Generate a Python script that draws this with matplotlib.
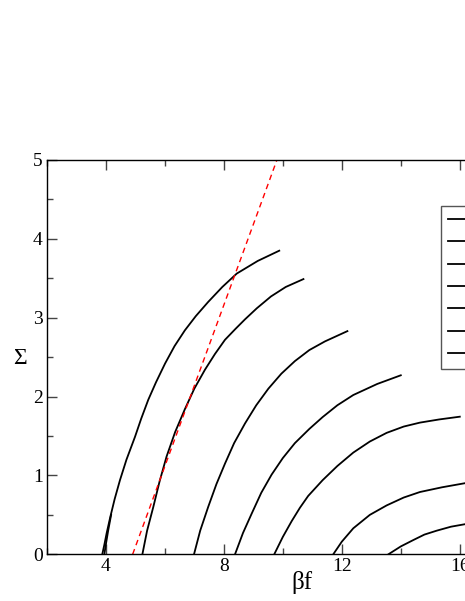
import matplotlib
matplotlib.use("Agg")
import matplotlib.pyplot as plt
from matplotlib.ticker import MultipleLocator

plt.rcParams['font.family'] = ['Liberation Serif', 'DejaVu Serif']

# curves (beta*f, Sigma)
c1_x = [3.88, 3.95, 4.03, 4.15, 4.30, 4.48, 4.70, 4.99, 5.20, 5.44, 5.70,
        6.01, 6.33, 6.68, 7.05, 7.47, 7.95, 8.44, 9.15, 9.88]
c1_y = [0.0, 0.12, 0.27, 0.47, 0.70, 0.94, 1.20, 1.49, 1.72, 1.96, 2.18,
        2.42, 2.64, 2.84, 3.02, 3.20, 3.39, 3.56, 3.72, 3.85]
c1b_x = [3.95, 4.00, 4.08, 4.18]
c1b_y = [0.0, 0.12, 0.30, 0.50]
c2_x = [5.24, 5.40, 5.61, 5.82, 6.06, 6.35, 6.68, 7.00, 7.36, 7.70, 8.04,
        8.40, 8.72, 9.12, 9.60, 10.10, 10.70]
c2_y = [0.0, 0.30, 0.60, 0.92, 1.24, 1.55, 1.84, 2.10, 2.34, 2.54, 2.72,
        2.86, 2.98, 3.12, 3.27, 3.39, 3.49]
c3_x = [6.99, 7.20, 7.47, 7.75, 8.04, 8.35, 8.72, 9.10, 9.51, 9.95, 10.41,
        10.90, 11.43, 12.19]
c3_y = [0.0, 0.30, 0.60, 0.89, 1.15, 1.41, 1.66, 1.89, 2.10, 2.29, 2.45,
        2.59, 2.70, 2.83]
c4_x = [8.38, 8.65, 8.95, 9.27, 9.62, 10.00, 10.41, 10.90, 11.35, 11.85,
        12.39, 13.20, 14.00]
c4_y = [0.0, 0.27, 0.52, 0.78, 1.01, 1.22, 1.41, 1.59, 1.74, 1.89,
        2.02, 2.16, 2.27]
c5_x = [9.71, 10.00, 10.30, 10.58, 10.86, 11.35, 11.85, 12.39, 12.95, 13.52,
        14.10, 14.65, 15.30, 16.00]
c5_y = [0.0, 0.22, 0.42, 0.59, 0.74, 0.94, 1.12, 1.29, 1.43, 1.54,
        1.62, 1.67, 1.71, 1.745]
c6_x = [11.71, 12.00, 12.39, 12.95, 13.52, 14.10, 14.65, 15.40, 16.30]
c6_y = [0.0, 0.16, 0.33, 0.50, 0.62, 0.72, 0.79, 0.85, 0.91]
c7_x = [13.58, 14.00, 14.42, 14.80, 15.22, 15.70, 16.30]
c7_y = [0.0, 0.10, 0.18, 0.25, 0.30, 0.35, 0.39]
red_x = [4.91, 9.8]
red_y = [0.0, 5.0]

curves = [(c1_x, c1_y), (c2_x, c2_y), (c3_x, c3_y), (c4_x, c4_y),
          (c5_x, c5_y), (c6_x, c6_y), (c7_x, c7_y)]
labels = ["1", "2", "3", "4", "5", "6", "7"]

W, H = 465, 601
fig = plt.figure(figsize=(W / 100, H / 100), dpi=100)
# axes runs past the right edge of the picture, as in the reference
left, right, top, bottom = 46.8, 46.8 + 16 * 29.5, 160.0, 554.3
ax = fig.add_axes([left / W, 1 - bottom / H, (right - left) / W, (bottom - top) / H])

for (x, y), lab in zip(curves, labels):
    ax.plot(x, y, color='black', lw=1.3, label=lab)
ax.plot(c1b_x, c1b_y, color='black', lw=1.3)
ax.plot(red_x, red_y, color='red', lw=1.0, ls=(0, (4, 3)))

ax.set_xlim(2, 18)
ax.set_ylim(0, 5)
ax.xaxis.set_major_locator(MultipleLocator(4))
ax.xaxis.set_minor_locator(MultipleLocator(2))
ax.yaxis.set_major_locator(MultipleLocator(1))
ax.yaxis.set_minor_locator(MultipleLocator(0.5))
ax.tick_params(which='both', direction='in', top=True, right=True,
               labelsize=14, color='#444444', pad=3)
ax.tick_params(which='major', length=7, width=1)
ax.tick_params(which='minor', length=4, width=1)
for s in ax.spines.values():
    s.set_linewidth(1.0)

fig.text(302 / W, 1 - 583 / H, "βf", fontsize=18, ha='center', va='center')
fig.text(20 / W, 1 - 358 / H, "Σ", fontsize=17, ha='center', va='center')

leg = ax.legend(loc='upper left', bbox_to_anchor=(441 / W, 1 - 206 / H),
                bbox_transform=fig.transFigure, fontsize=12, handlelength=2.5,
                labelspacing=0.38, borderpad=0.4, handletextpad=0.6,
                borderaxespad=0, fancybox=False, framealpha=1)
leg.get_frame().set_edgecolor('#555555')
leg.get_frame().set_linewidth(1.0)

fig.savefig("out.png", dpi=100)
